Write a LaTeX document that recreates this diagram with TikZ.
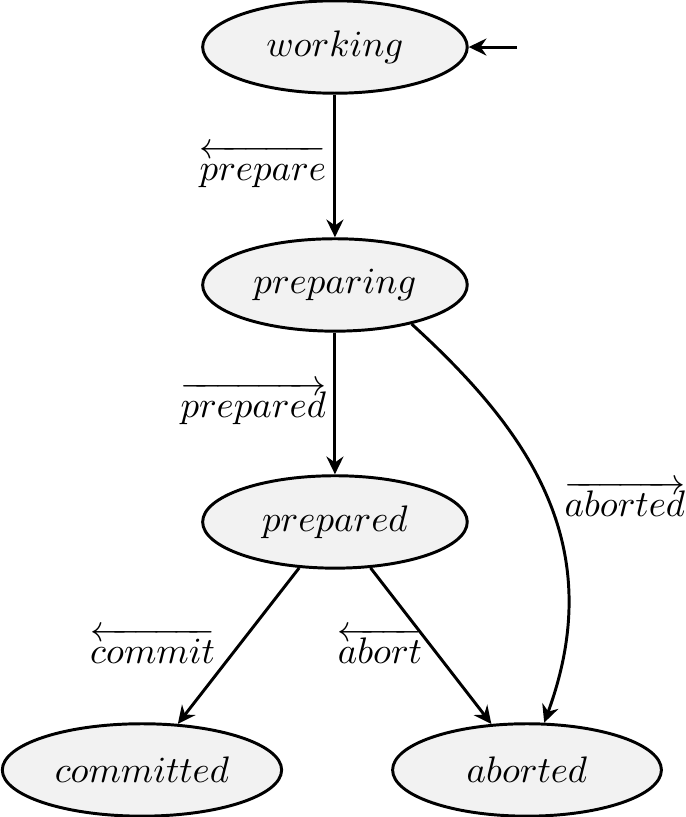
\documentclass[tikz,border=0pt]{standalone}
\usetikzlibrary{shapes.geometric,arrows.meta}
\begin{document}
\begin{tikzpicture}[
  st/.style={ellipse, draw, thick, fill=black!5, minimum width=2.52cm,
             minimum height=0.88cm, inner sep=0pt},
  tr/.style={thick, -{Stealth[length=4.8pt,width=4.6pt,inset=1.6pt]}},
  lbl/.style={inner sep=2pt},
]
  \useasboundingbox (0,0) rectangle (6.524,-7.781);

  \node[st] (working)   at (3.19,-0.448)  {$working$};
  \node[st] (preparing) at (3.19,-2.714)  {$preparing$};
  \node[st] (prepared)  at (3.19,-4.971)  {$prepared$};
  \node[st, minimum width=2.66cm] (committed) at (1.352,-7.333) {$committed$};
  \node[st, minimum width=2.56cm] (aborted)   at (5.019,-7.333) {$aborted$};

  \coordinate (init) at (4.924,-0.448);
  \draw[tr] (init) -- (working);

  \draw[tr] (working) -- node[lbl, left] (lprepare)
            {$\overleftarrow{\vphantom{d}prepare}$} (preparing);
  \draw[tr] (preparing) -- node[lbl, left] (lprepared)
            {$\overrightarrow{\vphantom{d}prepared}$} (prepared);
  \draw[tr] (preparing.-27) .. controls (5.048,-4.114) and (5.8,-5.2) .. (aborted.70);
  \node[lbl] (laborted) at (5.952,-4.75) {$\overrightarrow{\vphantom{d}aborted}$};
  \draw[tr] (prepared) -- node[lbl, left, xshift=-4pt] (lcommit)
            {$\overleftarrow{\vphantom{d}commit}$} (committed);
  \draw[tr] (prepared) -- node[lbl, left] (labort)
            {$\overleftarrow{\vphantom{d}abort}$} (aborted);
\end{tikzpicture}
\end{document}
